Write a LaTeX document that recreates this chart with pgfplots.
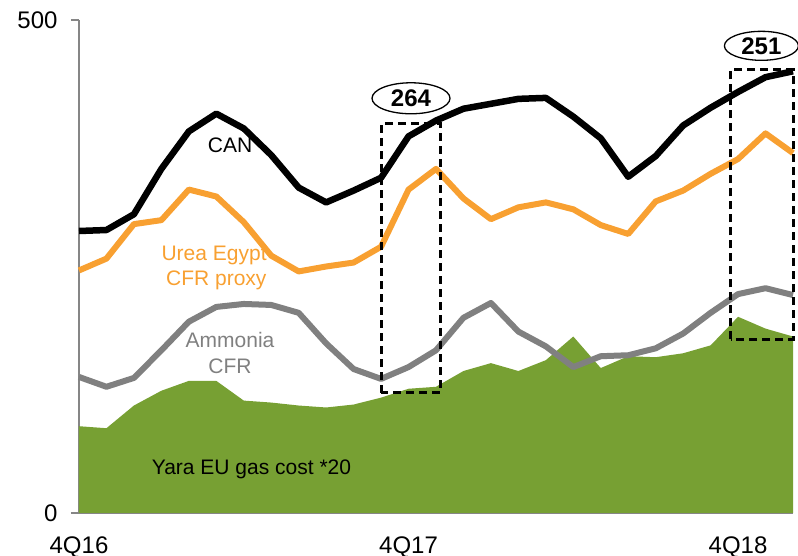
\documentclass[border=0pt]{standalone}
\usepackage{fontspec}
\setmainfont{Liberation Sans}
\usepackage{pgfplots}
\usepackage{pgfplotstable}
\pgfplotsset{compat=1.18}
\definecolor{gasgreen}{RGB}{119,160,51}
\definecolor{ureaorange}{RGB}{248,160,49}
\definecolor{ammgray}{RGB}{128,128,128}
\definecolor{axisgray}{RGB}{134,134,134}
\pgfplotstableread{
x can urea amm gas
0 286 246 138 88
1 287 258 128 86
2 303 293 137 109
3 349 297 165 124
4 387 328 194 134
5 405 321 209 134
6 390 295 212 114
7 363 261 211 112
8 330 245 203 109
9 315 250 172 107
10 327 254 146 110
11 340 270 136 117
12 382 328 148 126
13 398 349 165 128
14 410 319 198 144
15 415 298 213 152
16 420 310 184 144
17 421 315 169 155
18 402 308 148 179
19 380 292 159 147
20 341 283 160 159
21 362 316 167 158
22 393 327 182 162
23 411 344 203 170
24 427 359 222 199
25 442 385 228 187
26 448 365 221 179
}\datatable
\begin{document}
\begin{tikzpicture}
\begin{axis}[
  scale only axis, width=714pt, height=493pt,
  xmin=0, xmax=26, ymin=0, ymax=500,
  axis x line=bottom, axis y line=left,
  axis line style={-, draw=axisgray, line width=1.5pt},
  xtick={0,12,24}, xticklabels={4Q16,4Q17,4Q18},
  ytick={0,500}, yticklabels={0,500},
  tick align=outside,
  major tick length=8pt,
  x tick style={draw=none},
  y tick style={draw=axisgray, line width=1.5pt},
  tick label style={font=\fontsize{24}{28}\selectfont},
  xticklabel style={yshift=-12pt},
  yticklabel style={xshift=-10pt},
  /pgf/number format/assume math mode=true,
  clip=false,
]
\addplot[draw=none, fill=gasgreen] table[x=x, y=gas] {\datatable} \closedcycle;
\addplot[ammgray, line width=6pt, line join=round] table[x=x, y=amm] {\datatable};
\addplot[ureaorange, line width=6pt, line join=round] table[x=x, y=urea] {\datatable};
\addplot[black, line width=6.5pt, line join=round] table[x=x, y=can] {\datatable};

\draw[black, line width=3pt, dash pattern=on 8pt off 5pt] (axis cs:11,122) rectangle (axis cs:13.15,395);
\draw[black, line width=3pt, dash pattern=on 8pt off 5pt] (axis cs:23.74,176) rectangle (axis cs:26,449.3);

\draw[black, line width=1.3pt, fill=white] (axis cs:12.09,420.6) ellipse [x radius=39pt, y radius=15.5pt];
\node[font=\fontsize{24}{28}\selectfont\bfseries] at (axis cs:12.09,420.6) {264};
\draw[black, line width=1.3pt, fill=white] (axis cs:24.85,473.8) ellipse [x radius=37pt, y radius=14.5pt];
\node[font=\fontsize{24}{28}\selectfont\bfseries] at (axis cs:24.85,473.8) {251};

\node[font=\fontsize{21}{25}\selectfont, black] at (axis cs:5.5,373) {CAN};
\node[font=\fontsize{21}{25}\selectfont, text=ureaorange] at (axis cs:4.92,261.7) {Urea Egypt};
\node[font=\fontsize{21}{25}\selectfont, text=ureaorange] at (axis cs:5.0,236.3) {CFR proxy};
\node[font=\fontsize{21}{25}\selectfont, text=ammgray] at (axis cs:5.5,175.5) {Ammonia};
\node[font=\fontsize{21}{25}\selectfont, text=ammgray] at (axis cs:5.5,149) {CFR};
\node[font=\fontsize{21}{25}\selectfont, black] at (axis cs:6.28,44.6) {Yara EU gas cost *20};
\end{axis}
\pgfresetboundingbox
\path (-79pt,-43pt) rectangle (719pt,513pt);
\end{tikzpicture}
\end{document}
